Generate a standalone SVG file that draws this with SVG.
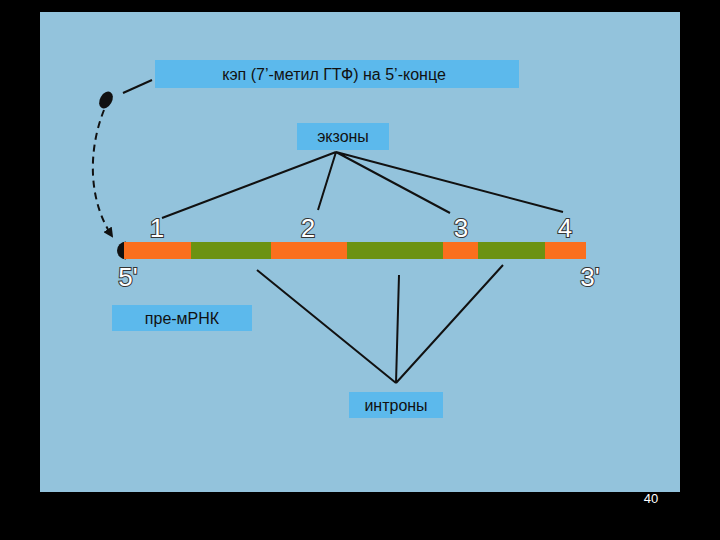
<svg xmlns="http://www.w3.org/2000/svg" width="720" height="540" viewBox="0 0 720 540">
<style>
.lbl{fill:#5cb9ec}
.t{font-family:"Liberation Sans",Arial,sans-serif;font-size:16px;fill:#111;text-anchor:middle}
.n{font-family:"Liberation Sans",Arial,sans-serif;font-size:26px;fill:#fff;stroke:#333;stroke-width:2;paint-order:stroke;text-anchor:middle}
.ln{stroke:#111;stroke-width:2;fill:none}
</style>
<defs><marker id="ah" markerWidth="10" markerHeight="10" refX="8" refY="5" orient="auto" markerUnits="userSpaceOnUse"><path d="M0,0 L10,5 L0,10 z" fill="#111"/></marker></defs>
<rect width="720" height="540" fill="#000"/>
<rect x="40" y="12" width="640" height="480" fill="#93c3dc"/>
<g id="connectors">
<path class="ln" d="M123,93 L152,80"/>
<path class="ln" d="M104,110 C88,150 88,200 112,236" stroke-dasharray="7,5" marker-end="url(#ah)"/>
<path class="ln" d="M336,152 L162,218 M336,152 L318,210 M336,152 L450,213 M336,152 L563,212"/>
<path class="ln" d="M396,383 L257,270 M396,383 L399,275 M396,383 L503,265"/>
</g>
<g id="cap"><ellipse cx="106" cy="100" rx="6" ry="9" transform="rotate(30 106 100)" fill="#111"/></g>
<g id="bar">
<path d="M126,241.5 A9,9 0 0 0 126,259.5 Z" fill="#111"/>
<rect x="124" y="242" width="67" height="17" fill="#fb6f1e"/>
<rect x="191" y="242" width="80" height="17" fill="#6c9212"/>
<rect x="271" y="242" width="76" height="17" fill="#fb6f1e"/>
<rect x="347" y="242" width="96" height="17" fill="#6c9212"/>
<rect x="443" y="242" width="35" height="17" fill="#fb6f1e"/>
<rect x="478" y="242" width="67" height="17" fill="#6c9212"/>
<rect x="545" y="242" width="41" height="17" fill="#fb6f1e"/>
</g>
<g id="numbers">
<text class="n" x="157" y="237">1</text>
<text class="n" x="308" y="237">2</text>
<text class="n" x="461" y="237">3</text>
<text class="n" x="565" y="237">4</text>
<text class="n" x="128" y="286">5'</text>
<text class="n" x="590" y="286">3'</text>
</g>
<g id="cap-label"><rect class="lbl" x="155" y="60" width="364" height="28"/><text class="t" x="334" y="80">кэп (7’-метил ГТФ) на 5’-конце</text></g>
<g id="exons"><rect class="lbl" x="297" y="123" width="92" height="27"/><text class="t" x="343" y="142">экзоны</text></g>
<g id="premrna"><rect class="lbl" x="112" y="305" width="140" height="26"/><text class="t" x="182" y="324">пре-мРНК</text></g>
<g id="introns"><rect class="lbl" x="349" y="392" width="94" height="26"/><text class="t" x="396" y="411">интроны</text></g>
<text x="651" y="503" font-family="Liberation Sans,Arial,sans-serif" font-size="13" fill="#fff" text-anchor="middle">40</text>
</svg>
